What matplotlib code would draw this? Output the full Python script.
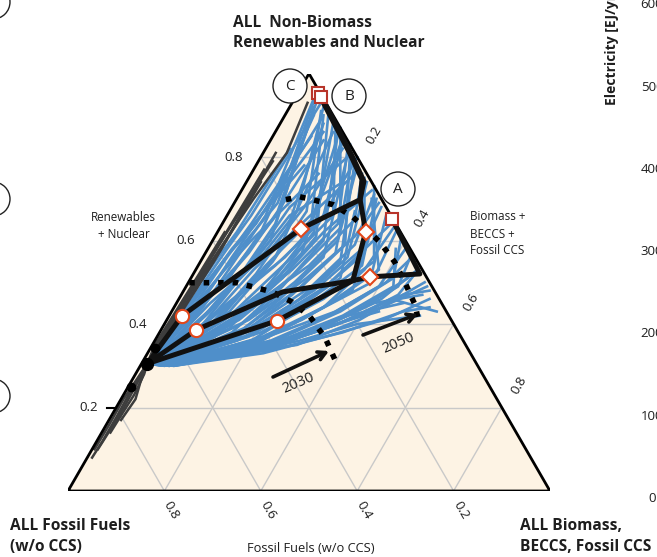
import numpy as np
import matplotlib
matplotlib.use("Agg")
import matplotlib.pyplot as plt
from matplotlib.patches import Polygon, Circle

plt.rcParams['font.family'] = ['Open Sans', 'DejaVu Sans']

# ---------------- data (shares: r = non-biomass renewables & nuclear, b = biomass/BECCS/fossil CCS)
START_R, START_B = 0.305, 0.012
EXTRA_START_R = [0.249, 0.343]
EXTRA_START_B = [0.006, 0.009]

BLUE_R2020 = [0.33,0.32,0.33,0.32,0.31,0.33,0.32,0.31,0.33,0.32,0.34,0.31,0.32,0.31,0.32,0.31,0.32,0.31,0.30,0.32,0.31,
              0.32,0.31,0.30,0.32,0.31,0.31,0.30,0.31,0.30,0.31,0.30,0.31,0.30,0.31,0.30,0.31,0.30,0.34,0.35,0.33,0.34,
              0.32,0.32,0.31,0.32,0.31,0.31,0.31,0.32,0.33,0.32,0.31,0.31,0.30,0.31,0.30,0.30,0.31,0.31,0.33,0.34,
              0.33,0.32,0.31,0.32,0.30,0.31,0.32,0.33,0.31,0.31]
BLUE_B2020 = [0.02,0.03,0.03,0.04,0.03,0.02,0.04,0.05,0.03,0.02,0.03,0.04,0.05,0.06,0.05,0.06,0.04,0.07,0.06,0.05,0.06,
              0.04,0.07,0.05,0.06,0.05,0.07,0.06,0.08,0.07,0.06,0.05,0.08,0.06,0.07,0.05,0.06,0.07,0.01,0.02,0.02,0.02,
              0.03,0.04,0.04,0.05,0.05,0.06,0.06,0.05,0.03,0.04,0.07,0.06,0.07,0.08,0.06,0.06,0.05,0.05,0.02,0.02,
              0.03,0.04,0.06,0.05,0.07,0.07,0.03,0.02,0.05,0.06]
BLUE_R2030 = [0.42,0.40,0.44,0.41,0.38,0.45,0.43,0.39,0.46,0.42,0.47,0.37,0.40,0.38,0.42,0.36,0.41,0.37,0.35,0.43,0.39,
              0.44,0.36,0.37,0.40,0.38,0.35,0.34,0.36,0.34,0.37,0.33,0.35,0.33,0.36,0.32,0.34,0.33,0.45,0.48,0.44,0.46,
              0.41,0.42,0.40,0.41,0.39,0.38,0.37,0.43,0.44,0.42,0.37,0.38,0.36,0.35,0.34,0.33,0.35,0.36,0.43,0.45,
              0.45,0.43,0.39,0.41,0.34,0.36,0.43,0.44,0.40,0.37]
BLUE_B2030 = [0.05,0.08,0.06,0.10,0.09,0.04,0.12,0.14,0.09,0.03,0.05,0.12,0.16,0.18,0.14,0.20,0.12,0.22,0.21,0.15,0.19,
              0.10,0.24,0.17,0.21,0.15,0.25,0.22,0.28,0.26,0.23,0.18,0.30,0.20,0.26,0.15,0.20,0.24,0.02,0.03,0.04,0.03,
              0.07,0.11,0.13,0.15,0.17,0.20,0.19,0.13,0.08,0.09,0.23,0.21,0.25,0.27,0.23,0.21,0.19,0.17,0.05,0.06,
              0.07,0.10,0.18,0.17,0.24,0.22,0.08,0.05,0.14,0.16]
BLUE_R2040 = [0.52,0.50,0.55,0.52,0.47,0.56,0.55,0.50,0.58,0.50,0.60,0.46,0.50,0.47,0.53,0.45,0.52,0.44,0.43,0.54,0.48,
              0.56,0.42,0.47,0.49,0.49,0.40,0.39,0.41,0.38,0.43,0.37,0.41,0.36,0.42,0.35,0.38,0.37,0.55,0.58,0.53,0.57,
              0.53,0.54,0.51,0.52,0.49,0.47,0.46,0.55,0.56,0.53,0.45,0.46,0.43,0.42,0.40,0.38,0.41,0.43,0.54,0.57,
              0.57,0.54,0.49,0.51,0.40,0.44,0.55,0.56,0.51,0.46]
BLUE_B2040 = [0.08,0.10,0.07,0.13,0.12,0.05,0.15,0.17,0.11,0.04,0.07,0.16,0.22,0.26,0.20,0.28,0.19,0.31,0.30,0.23,0.27,
              0.17,0.33,0.23,0.29,0.20,0.36,0.33,0.38,0.38,0.34,0.28,0.40,0.30,0.36,0.24,0.31,0.35,0.03,0.04,0.06,0.05,
              0.10,0.14,0.18,0.21,0.24,0.28,0.25,0.18,0.12,0.12,0.32,0.30,0.35,0.37,0.34,0.32,0.28,0.25,0.08,0.09,
              0.13,0.16,0.26,0.24,0.36,0.31,0.11,0.06,0.19,0.21]
BLUE_R2050 = [0.62,0.60,0.66,0.63,0.56,0.64,0.67,0.61,0.68,0.58,0.69,0.57,0.60,0.56,0.64,0.54,0.62,0.52,0.50,0.65,0.58,
              0.66,0.49,0.57,0.59,0.60,0.46,0.45,0.47,0.43,0.50,0.42,0.48,0.40,0.49,0.39,0.44,0.41,0.62,0.66,0.60,0.64,
              0.64,0.65,0.62,0.63,0.59,0.57,0.55,0.66,0.67,0.63,0.53,0.55,0.51,0.49,0.46,0.44,0.48,0.51,0.65,0.67,
              0.68,0.64,0.59,0.61,0.47,0.53,0.66,0.66,0.61,0.56]
BLUE_B2050 = [0.09,0.12,0.08,0.14,0.15,0.06,0.16,0.19,0.12,0.05,0.09,0.20,0.26,0.30,0.24,0.34,0.22,0.37,0.38,0.27,0.32,
              0.20,0.40,0.27,0.33,0.23,0.44,0.41,0.45,0.48,0.41,0.37,0.47,0.40,0.43,0.33,0.39,0.45,0.04,0.05,0.08,0.07,
              0.11,0.18,0.20,0.25,0.28,0.33,0.29,0.22,0.14,0.16,0.38,0.36,0.42,0.44,0.42,0.43,0.35,0.31,0.10,0.10,
              0.15,0.20,0.30,0.29,0.46,0.35,0.13,0.07,0.21,0.25]
BLUE_R2100 = [0.90,0.92,0.94,0.88,0.86,0.85,0.91,0.83,0.80,0.78,0.95,0.87,0.78,0.74,0.82,0.70,0.72,0.66,0.62,0.76,0.68,
              0.84,0.58,0.80,0.64,0.86,0.43,0.47,0.52,0.44,0.55,0.45,0.50,0.42,0.58,0.43,0.51,0.46,0.82,0.93,0.76,0.89,
              0.93,0.90,0.88,0.85,0.81,0.75,0.79,0.87,0.92,0.77,0.70,0.73,0.60,0.56,0.53,0.49,0.61,0.67,0.84,0.88,
              0.82,0.80,0.71,0.69,0.48,0.63,0.74,0.86,0.90,0.83]
BLUE_B2100 = [0.06,0.05,0.04,0.09,0.12,0.08,0.07,0.15,0.18,0.10,0.04,0.13,0.21,0.25,0.17,0.29,0.27,0.33,0.37,0.23,0.31,
              0.15,0.41,0.19,0.35,0.13,0.55,0.50,0.46,0.53,0.43,0.47,0.49,0.52,0.39,0.43,0.45,0.52,0.05,0.06,0.14,0.08,
              0.05,0.08,0.11,0.14,0.18,0.24,0.20,0.12,0.07,0.22,0.28,0.27,0.39,0.43,0.46,0.50,0.32,0.26,0.11,0.06,
              0.16,0.20,0.28,0.30,0.51,0.36,0.20,0.10,0.09,0.17]

GREY_R = [[0.305,0.36,0.45,0.58,0.81],
          [0.305,0.37,0.48,0.62,0.79],
          [0.305,0.35,0.44,0.55,0.74],
          [0.305,0.38,0.52,0.70,0.81,0.93],
          [0.305,0.36,0.47,0.60,0.77],
          [0.305,0.35,0.42,0.52,0.62],
          [0.305,0.25,0.18,0.12,0.08],
          [0.305,0.27,0.20,0.14,0.10],
          [0.305,0.22,0.16,0.10],
          [0.305,0.28,0.23,0.19,0.14],
          [0.305,0.26,0.22,0.17]]
GREY_B = [[0.012,0.012,0.020,0.028,0.026],
          [0.012,0.010,0.015,0.020,0.030],
          [0.012,0.015,0.022,0.028,0.030],
          [0.012,0.010,0.020,0.035,0.049,0.032],
          [0.012,0.008,0.012,0.018,0.022],
          [0.012,0.005,0.008,0.012,0.015],
          [0.012,0.010,0.012,0.012,0.010],
          [0.012,0.014,0.016,0.014,0.012],
          [0.012,0.005,0.006,0.005],
          [0.012,0.018,0.022,0.020,0.018],
          [0.012,0.020,0.030,0.025]]

# highlighted scenarios
SC_C_R = [0.305, 0.420, 0.628, 0.698, 0.746, 0.809, 0.954]
SC_C_B = [0.012, 0.027, 0.169, 0.257, 0.237, 0.180, 0.042]
SC_B_R = [0.305, 0.386, 0.477, 0.504, 0.621, 0.698, 0.742, 0.805, 0.945]
SC_B_B = [0.012, 0.073, 0.207, 0.339, 0.307, 0.257, 0.243, 0.186, 0.053]
SC_A_R = [0.305, 0.408, 0.504, 0.513, 0.520, 0.652]
SC_A_B = [0.012, 0.230, 0.339, 0.370, 0.470, 0.346]

M2030_R = [0.420, 0.386, 0.408]
M2030_B = [0.027, 0.073, 0.230]
M2050_R = [0.628, 0.621, 0.513]
M2050_B = [0.169, 0.307, 0.370]
M2100_R = [0.954, 0.945, 0.652]
M2100_B = [0.042, 0.053, 0.346]

ENV2030_R = [0.499, 0.499, 0.477, 0.453, 0.417, 0.367, 0.314]
ENV2030_B = [0.002, 0.101, 0.185, 0.238, 0.294, 0.350, 0.397]
ENV2050_R = [0.698, 0.705, 0.686, 0.657, 0.597, 0.549, 0.501, 0.446, 0.417]
ENV2050_B = [0.103, 0.128, 0.207, 0.262, 0.348, 0.403, 0.448, 0.497, 0.517]

TICKS = [0.2, 0.4, 0.6, 0.8]
ELEC_TICKS = ['600', '500', '400', '300', '200', '100', '0']

# ---------------- helpers
SQ3 = np.sqrt(3) / 2


def tern(r, b):
    r = np.asarray(r, dtype=float)
    b = np.asarray(b, dtype=float)
    return b + r / 2, r * SQ3


def P(x, y):
    # layout position given in figure pixels -> axes data units
    return ((x - 68) / 482.0, (491 - y) / 482.0)


fig = plt.figure(figsize=(6.57, 5.57), dpi=100)
ax = fig.add_axes([68 / 657, 66 / 557, 482 / 657, 482 * SQ3 / 557])
ax.set_xlim(0, 1)
ax.set_ylim(0, SQ3)
ax.axis('off')

BLUE = '#4f8fca'
BG = '#fdf3e4'
GRID = '#c9c9c9'
RED = '#e2471b'
DRED = '#b8342a'
TXT = '#1e1e1e'

# background triangle
tri = np.array([tern(0, 0), tern(1, 0), tern(0, 1)])
ax.add_patch(Polygon(tri, closed=True, facecolor=BG, edgecolor='none', zorder=0))

# grid
for v in TICKS:
    for (r1, b1), (r2, b2) in [((v, 0), (v, 1 - v)), ((0, v), (1 - v, v)), ((0, 1 - v), (1 - v, 0))]:
        x, y = tern([r1, r2], [b1, b2])
        ax.plot(x, y, color=GRID, lw=1.0, zorder=1)

# blue scenarios
for i in range(len(BLUE_R2100)):
    rr = [START_R, BLUE_R2020[i], BLUE_R2030[i], BLUE_R2040[i], BLUE_R2050[i], BLUE_R2100[i]]
    bb = [START_B, BLUE_B2020[i], BLUE_B2030[i], BLUE_B2040[i], BLUE_B2050[i], BLUE_B2100[i]]
    x, y = tern(rr, bb)
    ax.plot(x, y, color=BLUE, lw=1.9, zorder=2, solid_joinstyle='round')

# grey scenarios
for rr, bb in zip(GREY_R, GREY_B):
    x, y = tern(rr, bb)
    ax.plot(x, y, color='#3d3d3d', lw=1.8, zorder=3)

# triangle border
bx, by = tern([0, 0, 1, 0], [0, 1, 0, 0])
ax.plot(bx, by, color='black', lw=2.0, zorder=4, solid_joinstyle='miter')

# envelopes (dotted)
for rr, bb in [(ENV2030_R, ENV2030_B), (ENV2050_R, ENV2050_B)]:
    x, y = tern(rr, bb)
    ax.plot(x, y, color='black', lw=4, linestyle=(0, (1, 1.6)), dash_capstyle='butt', zorder=5)

# highlighted scenarios
for rr, bb in [(SC_C_R, SC_C_B), (SC_B_R, SC_B_B), (SC_A_R, SC_A_B)]:
    x, y = tern(rr, bb)
    ax.plot(x, y, color='#111111', lw=3.6, zorder=6, solid_joinstyle='round', solid_capstyle='round')

# 2010 points
x, y = tern(START_R, START_B)
ax.plot(x, y, 'o', color='black', ms=8.5, zorder=7)
x, y = tern(EXTRA_START_R, EXTRA_START_B)
ax.plot(x, y, 'o', color='black', ms=6, zorder=7, ls='none')

# markers
x, y = tern(M2030_R, M2030_B)
ax.plot(x, y, 'o', ms=9.5, mfc='white', mec=RED, mew=1.5, ls='none', zorder=8)
x, y = tern(M2050_R, M2050_B)
ax.plot(x, y, 'D', ms=8.5, mfc='white', mec=RED, mew=1.5, ls='none', zorder=8)
x, y = tern(M2100_R, M2100_B)
ax.plot(x, y, 's', ms=8.5, mfc='white', mec=DRED, mew=1.5, ls='none', zorder=8)

# tick labels
TFS = 9.5
for v in TICKS:
    # left side (non-biomass renewables & nuclear)
    x, y = tern(v, 0)
    ax.text(x - 18 / 482, y, f"{v:.1f}", ha='right', va='center', fontsize=TFS, color=TXT)
    # right side (biomass etc.)
    x, y = tern(1 - v, v)
    ax.text(x + 17 / 482, y + 22 / 482, f"{v:.1f}", ha='center', va='center', rotation=60,
            rotation_mode='anchor', fontsize=TFS, color=TXT)
    # bottom (fossil)
    x, y = tern(0, 1 - v)
    ax.text(x + 7 / 482, y - 19 / 482, f"{v:.1f}", ha='center', va='center', rotation=-60,
            rotation_mode='anchor', fontsize=TFS, color=TXT)
x, y = tern(0.2, 0)
ax.plot([x - 9 / 482, x - 1 / 482], [y, y], color='black', lw=1.5, clip_on=False, zorder=4)

# axis captions
SFS = 8.4
ax.text(*P(123, 217), "Renewables", ha='center', va='center', fontsize=SFS, color=TXT)
ax.text(*P(124, 234), "+ Nuclear", ha='center', va='center', fontsize=SFS, color=TXT)
ax.text(*P(470, 216), "Biomass +", ha='left', va='center', fontsize=SFS, color=TXT)
ax.text(*P(470, 234), "BECCS +", ha='left', va='center', fontsize=SFS, color=TXT)
ax.text(*P(470, 251), "Fossil CCS", ha='left', va='center', fontsize=SFS, color=TXT)
ax.text(*P(311, 552), "Fossil Fuels (w/o CCS)", ha='center', va='baseline', fontsize=9.3, color=TXT)

# corner titles
BFS = 11.2
ax.text(*P(233, 27), "ALL  Non-Biomass", ha='left', va='baseline', fontsize=BFS, fontweight='bold', color=TXT)
ax.text(*P(233, 47), "Renewables and Nuclear", ha='left', va='baseline', fontsize=BFS, fontweight='bold', color=TXT)
ax.text(*P(10, 530), "ALL Fossil Fuels", ha='left', va='baseline', fontsize=BFS, fontweight='bold', color=TXT)
ax.text(*P(10, 551), "(w/o CCS)", ha='left', va='baseline', fontsize=BFS, fontweight='bold', color=TXT)
ax.text(*P(520, 530), "ALL Biomass,", ha='left', va='baseline', fontsize=BFS, fontweight='bold', color=TXT)
ax.text(*P(520, 551), "BECCS, Fossil CCS", ha='left', va='baseline', fontsize=BFS, fontweight='bold', color=TXT)

# scenario letter circles
for (cx, cy), lab in [((290, 86), 'C'), ((349, 96), 'B'), ((398, 189), 'A')]:
    ax.add_patch(Circle(P(cx, cy), 17 / 482, facecolor='white', edgecolor='#222222', lw=1.0,
                        zorder=9, clip_on=False))
    ax.text(*P(cx, cy), lab, ha='center', va='center', fontsize=11, color=TXT, zorder=10)

# partial circles of neighbouring panel
for cy in [2, 199, 396]:
    ax.add_patch(Circle(P(-7, cy), 17 / 482, facecolor='white', edgecolor='#222222', lw=1.0,
                        zorder=9, clip_on=False))

# arrows and year labels
for (x0, y0, x1, y1), (tx, ty), lab in [((273, 377, 329, 351), (298, 383), '2030'),
                                         ((363, 335, 418, 314), (398, 343), '2050')]:
    ax.annotate('', xy=P(x1, y1), xytext=P(x0, y0),
                arrowprops=dict(arrowstyle='->,head_length=0.55,head_width=0.3', lw=2.6, color='#111111',
                                shrinkA=0, shrinkB=0), zorder=9)
    ax.text(*P(tx, ty), lab, ha='center', va='center', rotation=23, fontsize=10.5, color=TXT)

# electricity axis of neighbouring panel (cut by the figure edge, as in the original)
ax.text(*P(612, 105), "Electricity [EJ/yr]", rotation=90, ha='center', va='bottom', fontsize=10,
        fontweight='bold', color=TXT)
for i, t in enumerate(ELEC_TICKS):
    ax.text(*P(652, 5 + i * 82.2), t, ha='center', va='center', fontsize=9.5, color=TXT)

fig.savefig('out.png', dpi=100)
